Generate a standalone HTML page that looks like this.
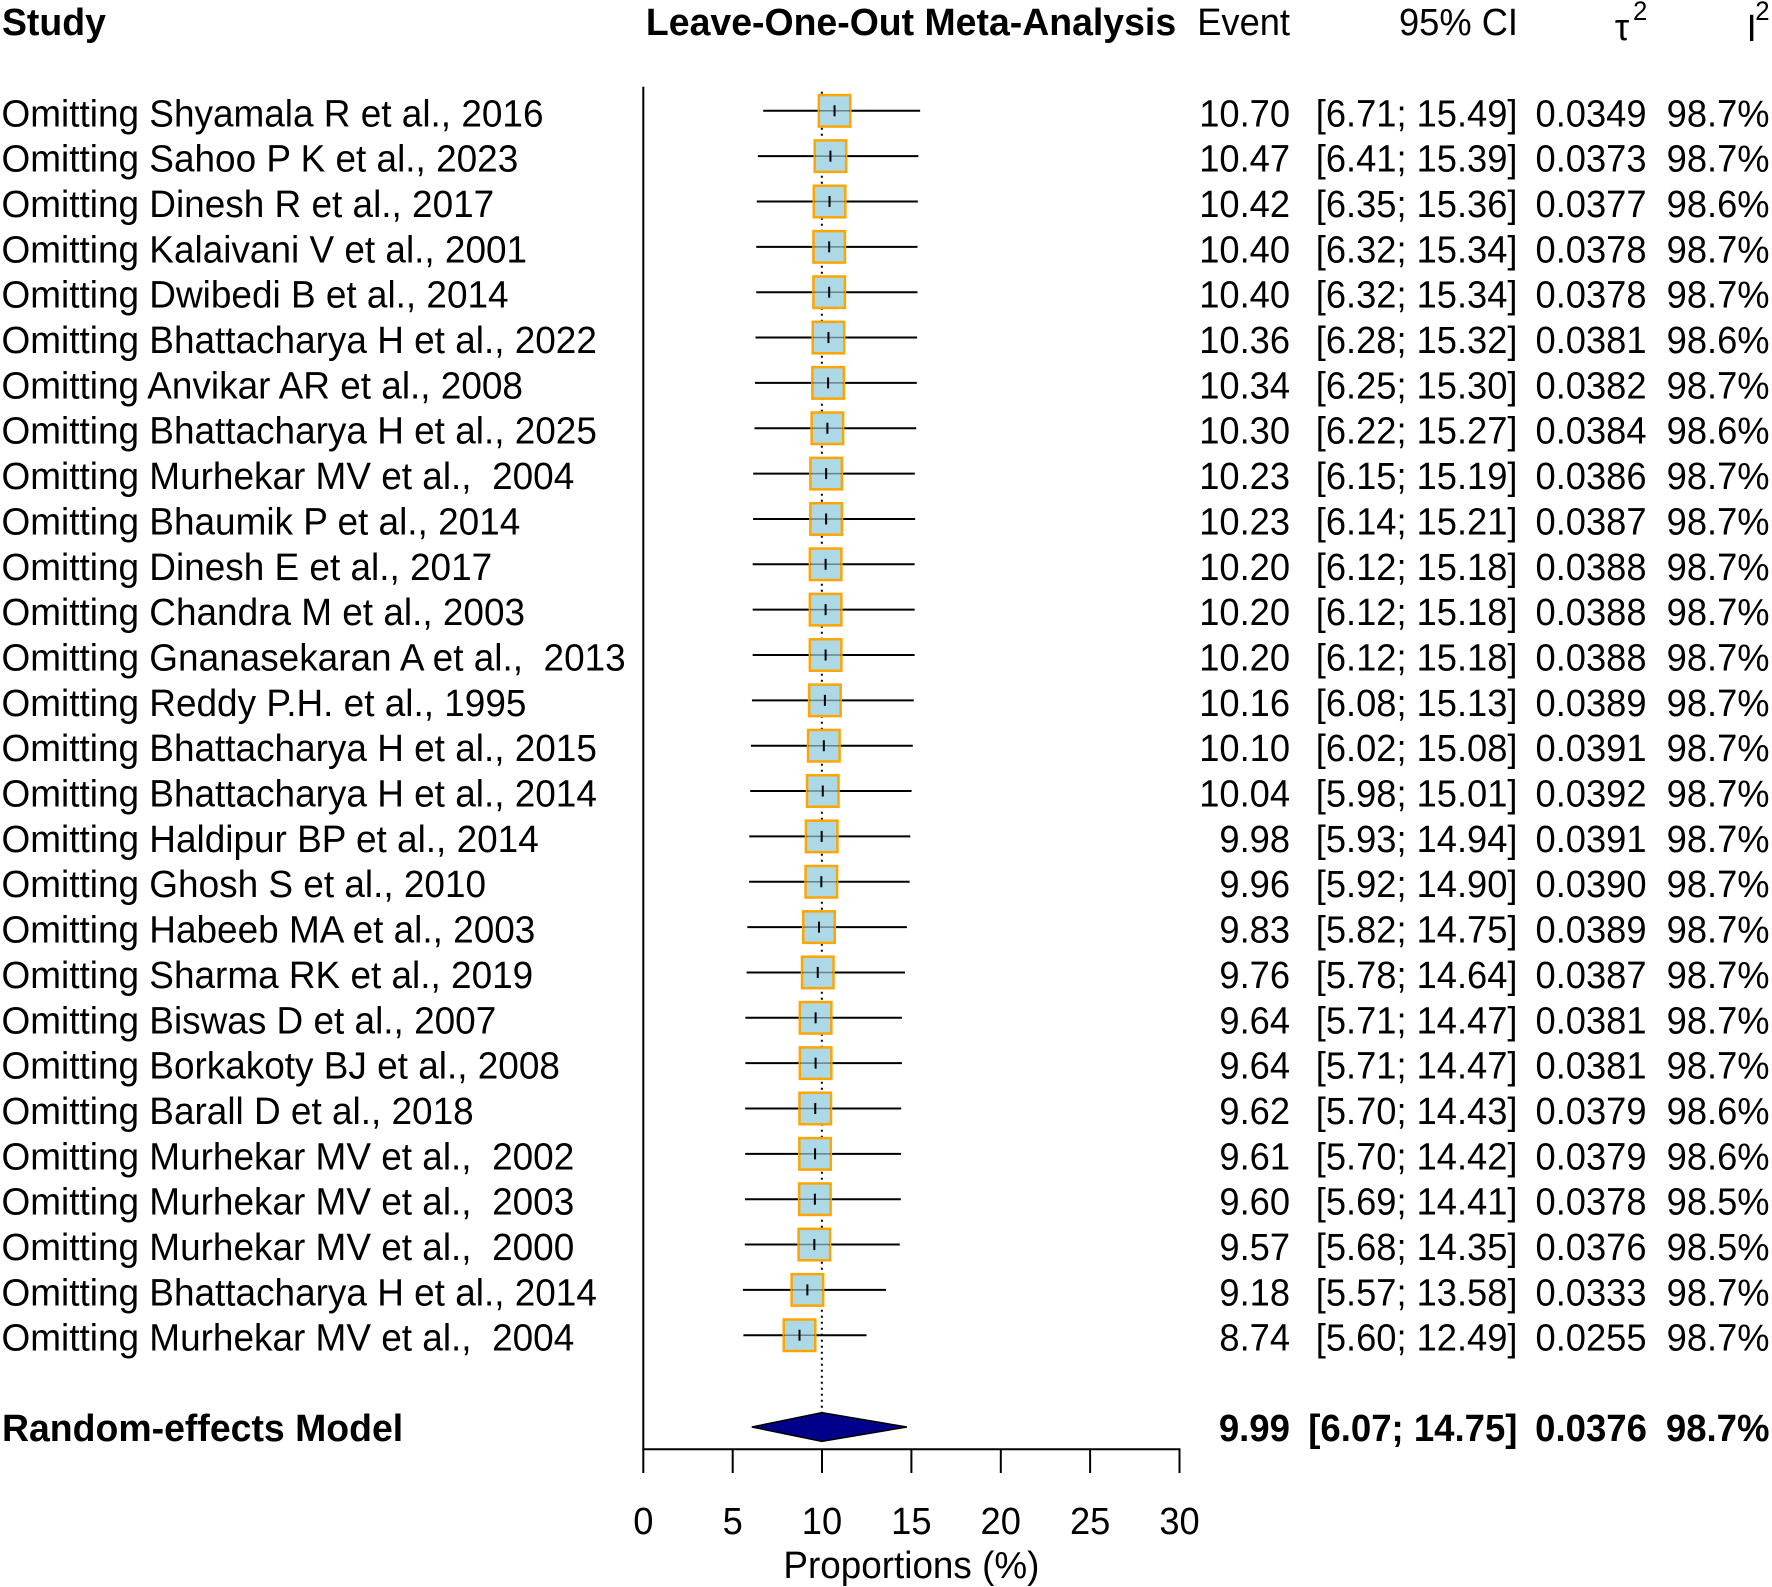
<!DOCTYPE html>
<html>
<head>
<meta charset="utf-8">
<style>
html,body{margin:0;padding:0;background:#fff;}
svg{display:block;}
text{font-family:"Liberation Sans",Arial,sans-serif;fill:#000;white-space:pre;}
.e{text-anchor:end;}
.m{text-anchor:middle;}
.b{font-weight:bold;}
</style>
</head>
<body>
<svg width="1772" height="1587" viewBox="0 0 1772 1587" xmlns="http://www.w3.org/2000/svg">
<rect x="0" y="0" width="1772" height="1587" fill="#fff"/>

<line x1="643.3" y1="86.7" x2="643.3" y2="1450" stroke="#000" stroke-width="2"/>
<line x1="642.3" y1="1449.3" x2="1180.5" y2="1449.3" stroke="#000" stroke-width="2"/>
<g stroke="#000" stroke-width="2">
<line x1="643.3" y1="1449" x2="643.3" y2="1473"/>
<line x1="732.7" y1="1449" x2="732.7" y2="1473"/>
<line x1="822.0" y1="1449" x2="822.0" y2="1473"/>
<line x1="911.4" y1="1449" x2="911.4" y2="1473"/>
<line x1="1000.8" y1="1449" x2="1000.8" y2="1473"/>
<line x1="1090.1" y1="1449" x2="1090.1" y2="1473"/>
<line x1="1179.5" y1="1449" x2="1179.5" y2="1473"/>
</g>

<line x1="821.85" y1="91.7" x2="821.85" y2="1413" stroke="#000" stroke-width="2" stroke-dasharray="2,4"/>

<g id="wh" stroke="#000" stroke-width="2">
<line x1="763.23" x2="920.15" y1="110.8" y2="110.8"/>
<line x1="757.87" x2="918.37" y1="156.15" y2="156.15"/>
<line x1="756.79" x2="917.83" y1="201.5" y2="201.5"/>
<line x1="756.26" x2="917.47" y1="246.85" y2="246.85"/>
<line x1="756.26" x2="917.47" y1="292.2" y2="292.2"/>
<line x1="755.54" x2="917.11" y1="337.55" y2="337.55"/>
<line x1="755.01" x2="916.76" y1="382.9" y2="382.9"/>
<line x1="754.47" x2="916.22" y1="428.25" y2="428.25"/>
<line x1="753.22" x2="914.79" y1="473.6" y2="473.6"/>
<line x1="753.04" x2="915.15" y1="518.95" y2="518.95"/>
<line x1="752.68" x2="914.61" y1="564.3" y2="564.3"/>
<line x1="752.68" x2="914.61" y1="609.65" y2="609.65"/>
<line x1="752.68" x2="914.61" y1="655.0" y2="655.0"/>
<line x1="751.97" x2="913.72" y1="700.35" y2="700.35"/>
<line x1="750.90" x2="912.82" y1="745.7" y2="745.7"/>
<line x1="750.18" x2="911.57" y1="791.05" y2="791.05"/>
<line x1="749.29" x2="910.32" y1="836.4" y2="836.4"/>
<line x1="749.11" x2="909.61" y1="881.75" y2="881.75"/>
<line x1="747.32" x2="906.93" y1="927.1" y2="927.1"/>
<line x1="746.61" x2="904.96" y1="972.45" y2="972.45"/>
<line x1="745.35" x2="901.92" y1="1017.8" y2="1017.8"/>
<line x1="745.35" x2="901.92" y1="1063.15" y2="1063.15"/>
<line x1="745.18" x2="901.21" y1="1108.5" y2="1108.5"/>
<line x1="745.18" x2="901.03" y1="1153.85" y2="1153.85"/>
<line x1="745.00" x2="900.85" y1="1199.2" y2="1199.2"/>
<line x1="744.82" x2="899.78" y1="1244.55" y2="1244.55"/>
<line x1="742.85" x2="886.02" y1="1289.9" y2="1289.9"/>
<line x1="743.39" x2="866.53" y1="1335.25" y2="1335.25"/>
</g>

<g fill="#ADD8E6" stroke="#FFA500" stroke-width="2.5">
<rect x="818.79" y="95.05" width="31.5" height="31.5"/>
<rect x="814.68" y="140.4" width="31.5" height="31.5"/>
<rect x="813.79" y="185.75" width="31.5" height="31.5"/>
<rect x="813.43" y="231.1" width="31.5" height="31.5"/>
<rect x="813.43" y="276.45" width="31.5" height="31.5"/>
<rect x="812.71" y="321.8" width="31.5" height="31.5"/>
<rect x="812.36" y="367.15" width="31.5" height="31.5"/>
<rect x="811.64" y="412.5" width="31.5" height="31.5"/>
<rect x="810.39" y="457.85" width="31.5" height="31.5"/>
<rect x="810.39" y="503.2" width="31.5" height="31.5"/>
<rect x="809.85" y="548.55" width="31.5" height="31.5"/>
<rect x="809.85" y="593.9" width="31.5" height="31.5"/>
<rect x="809.85" y="639.25" width="31.5" height="31.5"/>
<rect x="809.14" y="684.6" width="31.5" height="31.5"/>
<rect x="808.07" y="729.95" width="31.5" height="31.5"/>
<rect x="807.0" y="775.3" width="31.5" height="31.5"/>
<rect x="805.92" y="820.65" width="31.5" height="31.5"/>
<rect x="805.57" y="866.0" width="31.5" height="31.5"/>
<rect x="803.24" y="911.35" width="31.5" height="31.5"/>
<rect x="801.99" y="956.7" width="31.5" height="31.5"/>
<rect x="799.85" y="1002.05" width="31.5" height="31.5"/>
<rect x="799.85" y="1047.4" width="31.5" height="31.5"/>
<rect x="799.49" y="1092.75" width="31.5" height="31.5"/>
<rect x="799.31" y="1138.1" width="31.5" height="31.5"/>
<rect x="799.13" y="1183.45" width="31.5" height="31.5"/>
<rect x="798.59" y="1228.8" width="31.5" height="31.5"/>
<rect x="791.62" y="1274.15" width="31.5" height="31.5"/>
<rect x="783.76" y="1319.5" width="31.5" height="31.5"/>
</g>

<!-- faint whisker across boxes -->
<g stroke="#000" stroke-width="1.5" stroke-opacity="0.4">
<line x1="818.79" x2="850.29" y1="110.8" y2="110.8"/>
<line x1="814.68" x2="846.18" y1="156.15" y2="156.15"/>
<line x1="813.79" x2="845.29" y1="201.5" y2="201.5"/>
<line x1="813.43" x2="844.93" y1="246.85" y2="246.85"/>
<line x1="813.43" x2="844.93" y1="292.2" y2="292.2"/>
<line x1="812.71" x2="844.21" y1="337.55" y2="337.55"/>
<line x1="812.36" x2="843.86" y1="382.9" y2="382.9"/>
<line x1="811.64" x2="843.14" y1="428.25" y2="428.25"/>
<line x1="810.39" x2="841.89" y1="473.6" y2="473.6"/>
<line x1="810.39" x2="841.89" y1="518.95" y2="518.95"/>
<line x1="809.85" x2="841.35" y1="564.3" y2="564.3"/>
<line x1="809.85" x2="841.35" y1="609.65" y2="609.65"/>
<line x1="809.85" x2="841.35" y1="655.0" y2="655.0"/>
<line x1="809.14" x2="840.64" y1="700.35" y2="700.35"/>
<line x1="808.07" x2="839.57" y1="745.7" y2="745.7"/>
<line x1="807.0" x2="838.5" y1="791.05" y2="791.05"/>
<line x1="805.92" x2="837.42" y1="836.4" y2="836.4"/>
<line x1="805.57" x2="837.07" y1="881.75" y2="881.75"/>
<line x1="803.24" x2="834.74" y1="927.1" y2="927.1"/>
<line x1="801.99" x2="833.49" y1="972.45" y2="972.45"/>
<line x1="799.85" x2="831.35" y1="1017.8" y2="1017.8"/>
<line x1="799.85" x2="831.35" y1="1063.15" y2="1063.15"/>
<line x1="799.49" x2="830.99" y1="1108.5" y2="1108.5"/>
<line x1="799.31" x2="830.81" y1="1153.85" y2="1153.85"/>
<line x1="799.13" x2="830.63" y1="1199.2" y2="1199.2"/>
<line x1="798.59" x2="830.09" y1="1244.55" y2="1244.55"/>
<line x1="791.62" x2="823.12" y1="1289.9" y2="1289.9"/>
<line x1="783.76" x2="815.26" y1="1335.25" y2="1335.25"/>
</g>

<g stroke="#000" stroke-width="2">
<line x1="834.54" x2="834.54" y1="105.3" y2="116.3"/>
<line x1="830.43" x2="830.43" y1="150.65" y2="161.65"/>
<line x1="829.54" x2="829.54" y1="196.0" y2="207.0"/>
<line x1="829.18" x2="829.18" y1="241.35" y2="252.35"/>
<line x1="829.18" x2="829.18" y1="286.7" y2="297.7"/>
<line x1="828.46" x2="828.46" y1="332.05" y2="343.05"/>
<line x1="828.11" x2="828.11" y1="377.4" y2="388.4"/>
<line x1="827.39" x2="827.39" y1="422.75" y2="433.75"/>
<line x1="826.14" x2="826.14" y1="468.1" y2="479.1"/>
<line x1="826.14" x2="826.14" y1="513.45" y2="524.45"/>
<line x1="825.60" x2="825.60" y1="558.8" y2="569.8"/>
<line x1="825.60" x2="825.60" y1="604.15" y2="615.15"/>
<line x1="825.60" x2="825.60" y1="649.5" y2="660.5"/>
<line x1="824.89" x2="824.89" y1="694.85" y2="705.85"/>
<line x1="823.82" x2="823.82" y1="740.2" y2="751.2"/>
<line x1="822.75" x2="822.75" y1="785.55" y2="796.55"/>
<line x1="821.67" x2="821.67" y1="830.9" y2="841.9"/>
<line x1="821.32" x2="821.32" y1="876.25" y2="887.25"/>
<line x1="818.99" x2="818.99" y1="921.6" y2="932.6"/>
<line x1="817.74" x2="817.74" y1="966.95" y2="977.95"/>
<line x1="815.60" x2="815.60" y1="1012.3" y2="1023.3"/>
<line x1="815.60" x2="815.60" y1="1057.65" y2="1068.65"/>
<line x1="815.24" x2="815.24" y1="1103.0" y2="1114.0"/>
<line x1="815.06" x2="815.06" y1="1148.35" y2="1159.35"/>
<line x1="814.88" x2="814.88" y1="1193.7" y2="1204.7"/>
<line x1="814.34" x2="814.34" y1="1239.05" y2="1250.05"/>
<line x1="807.37" x2="807.37" y1="1284.4" y2="1295.4"/>
<line x1="799.51" x2="799.51" y1="1329.75" y2="1340.75"/>
</g>

<polygon points="751.79,1427 821.85,1412.7 906.93,1427 821.85,1441.3" fill="#00008B" stroke="#000" stroke-width="1.5"/>

<!-- bold headers/labels -->
<g transform="scale(0.985,1)" font-size="38">
<text class="b" x="2" y="35">Study</text>
<text class="b m" x="924.9" y="35">Leave-One-Out Meta-Analysis</text>
<text class="b" x="2" y="1441">Random-effects Model</text>
</g>
<!-- bold numbers -->
<g transform="scale(0.962,1)" font-size="38">
<text class="b e" x="1340.9" y="1441">9.99</text>
<text class="b e" x="1577.4" y="1441">[6.07; 14.75]</text>
<text class="b e" x="1712.0" y="1441">0.0376</text>
<text class="b e" x="1839.4" y="1441">98.7%</text>
</g>

<!-- study labels -->
<g transform="scale(0.972,1)" font-size="38">
<text x="1.6" y="126.3">Omitting Shyamala R et al., 2016</text>
<text x="1.6" y="171.65">Omitting Sahoo P K et al., 2023</text>
<text x="1.6" y="217.0">Omitting Dinesh R et al., 2017</text>
<text x="1.6" y="262.35">Omitting Kalaivani V et al., 2001</text>
<text x="1.6" y="307.7">Omitting Dwibedi B et al., 2014</text>
<text x="1.6" y="353.05">Omitting Bhattacharya H et al., 2022</text>
<text x="1.6" y="398.4">Omitting Anvikar AR et al., 2008</text>
<text x="1.6" y="443.75">Omitting Bhattacharya H et al., 2025</text>
<text x="1.6" y="489.1">Omitting Murhekar MV et al.,  2004</text>
<text x="1.6" y="534.45">Omitting Bhaumik P et al., 2014</text>
<text x="1.6" y="579.8">Omitting Dinesh E et al., 2017</text>
<text x="1.6" y="625.15">Omitting Chandra M et al., 2003</text>
<text x="1.6" y="670.5">Omitting Gnanasekaran A et al.,  2013</text>
<text x="1.6" y="715.85">Omitting Reddy P.H. et al., 1995</text>
<text x="1.6" y="761.2">Omitting Bhattacharya H et al., 2015</text>
<text x="1.6" y="806.55">Omitting Bhattacharya H et al., 2014</text>
<text x="1.6" y="851.9">Omitting Haldipur BP et al., 2014</text>
<text x="1.6" y="897.25">Omitting Ghosh S et al., 2010</text>
<text x="1.6" y="942.6">Omitting Habeeb MA et al., 2003</text>
<text x="1.6" y="987.95">Omitting Sharma RK et al., 2019</text>
<text x="1.6" y="1033.3">Omitting Biswas D et al., 2007</text>
<text x="1.6" y="1078.65">Omitting Borkakoty BJ et al., 2008</text>
<text x="1.6" y="1124.0">Omitting Barall D et al., 2018</text>
<text x="1.6" y="1169.35">Omitting Murhekar MV et al.,  2002</text>
<text x="1.6" y="1214.7">Omitting Murhekar MV et al.,  2003</text>
<text x="1.6" y="1260.05">Omitting Murhekar MV et al.,  2000</text>
<text x="1.6" y="1305.4">Omitting Bhattacharya H et al., 2014</text>
<text x="1.6" y="1350.75">Omitting Murhekar MV et al.,  2004</text>
</g>

<g transform="scale(0.955,1)" font-size="38">
<text class="e" x="1350.8" y="35">Event</text>
<text class="e" x="1589.5" y="35">95% CI</text>
<text x="1691" y="40">τ</text>
<text x="1710" y="20" font-size="27">2</text>
<text x="1829" y="41">I</text>
<text x="1838" y="20" font-size="27">2</text>

<text class="e" x="1350.8" y="126.3">10.70</text>
<text class="e" x="1350.8" y="171.65">10.47</text>
<text class="e" x="1350.8" y="217.0">10.42</text>
<text class="e" x="1350.8" y="262.35">10.40</text>
<text class="e" x="1350.8" y="307.7">10.40</text>
<text class="e" x="1350.8" y="353.05">10.36</text>
<text class="e" x="1350.8" y="398.4">10.34</text>
<text class="e" x="1350.8" y="443.75">10.30</text>
<text class="e" x="1350.8" y="489.1">10.23</text>
<text class="e" x="1350.8" y="534.45">10.23</text>
<text class="e" x="1350.8" y="579.8">10.20</text>
<text class="e" x="1350.8" y="625.15">10.20</text>
<text class="e" x="1350.8" y="670.5">10.20</text>
<text class="e" x="1350.8" y="715.85">10.16</text>
<text class="e" x="1350.8" y="761.2">10.10</text>
<text class="e" x="1350.8" y="806.55">10.04</text>
<text class="e" x="1350.8" y="851.9">9.98</text>
<text class="e" x="1350.8" y="897.25">9.96</text>
<text class="e" x="1350.8" y="942.6">9.83</text>
<text class="e" x="1350.8" y="987.95">9.76</text>
<text class="e" x="1350.8" y="1033.3">9.64</text>
<text class="e" x="1350.8" y="1078.65">9.64</text>
<text class="e" x="1350.8" y="1124.0">9.62</text>
<text class="e" x="1350.8" y="1169.35">9.61</text>
<text class="e" x="1350.8" y="1214.7">9.60</text>
<text class="e" x="1350.8" y="1260.05">9.57</text>
<text class="e" x="1350.8" y="1305.4">9.18</text>
<text class="e" x="1350.8" y="1350.75">8.74</text>

<text class="e" x="1589" y="126.3">[6.71; 15.49]</text>
<text class="e" x="1589" y="171.65">[6.41; 15.39]</text>
<text class="e" x="1589" y="217.0">[6.35; 15.36]</text>
<text class="e" x="1589" y="262.35">[6.32; 15.34]</text>
<text class="e" x="1589" y="307.7">[6.32; 15.34]</text>
<text class="e" x="1589" y="353.05">[6.28; 15.32]</text>
<text class="e" x="1589" y="398.4">[6.25; 15.30]</text>
<text class="e" x="1589" y="443.75">[6.22; 15.27]</text>
<text class="e" x="1589" y="489.1">[6.15; 15.19]</text>
<text class="e" x="1589" y="534.45">[6.14; 15.21]</text>
<text class="e" x="1589" y="579.8">[6.12; 15.18]</text>
<text class="e" x="1589" y="625.15">[6.12; 15.18]</text>
<text class="e" x="1589" y="670.5">[6.12; 15.18]</text>
<text class="e" x="1589" y="715.85">[6.08; 15.13]</text>
<text class="e" x="1589" y="761.2">[6.02; 15.08]</text>
<text class="e" x="1589" y="806.55">[5.98; 15.01]</text>
<text class="e" x="1589" y="851.9">[5.93; 14.94]</text>
<text class="e" x="1589" y="897.25">[5.92; 14.90]</text>
<text class="e" x="1589" y="942.6">[5.82; 14.75]</text>
<text class="e" x="1589" y="987.95">[5.78; 14.64]</text>
<text class="e" x="1589" y="1033.3">[5.71; 14.47]</text>
<text class="e" x="1589" y="1078.65">[5.71; 14.47]</text>
<text class="e" x="1589" y="1124.0">[5.70; 14.43]</text>
<text class="e" x="1589" y="1169.35">[5.70; 14.42]</text>
<text class="e" x="1589" y="1214.7">[5.69; 14.41]</text>
<text class="e" x="1589" y="1260.05">[5.68; 14.35]</text>
<text class="e" x="1589" y="1305.4">[5.57; 13.58]</text>
<text class="e" x="1589" y="1350.75">[5.60; 12.49]</text>

<text class="e" x="1724.1" y="126.3">0.0349</text>
<text class="e" x="1724.1" y="171.65">0.0373</text>
<text class="e" x="1724.1" y="217.0">0.0377</text>
<text class="e" x="1724.1" y="262.35">0.0378</text>
<text class="e" x="1724.1" y="307.7">0.0378</text>
<text class="e" x="1724.1" y="353.05">0.0381</text>
<text class="e" x="1724.1" y="398.4">0.0382</text>
<text class="e" x="1724.1" y="443.75">0.0384</text>
<text class="e" x="1724.1" y="489.1">0.0386</text>
<text class="e" x="1724.1" y="534.45">0.0387</text>
<text class="e" x="1724.1" y="579.8">0.0388</text>
<text class="e" x="1724.1" y="625.15">0.0388</text>
<text class="e" x="1724.1" y="670.5">0.0388</text>
<text class="e" x="1724.1" y="715.85">0.0389</text>
<text class="e" x="1724.1" y="761.2">0.0391</text>
<text class="e" x="1724.1" y="806.55">0.0392</text>
<text class="e" x="1724.1" y="851.9">0.0391</text>
<text class="e" x="1724.1" y="897.25">0.0390</text>
<text class="e" x="1724.1" y="942.6">0.0389</text>
<text class="e" x="1724.1" y="987.95">0.0387</text>
<text class="e" x="1724.1" y="1033.3">0.0381</text>
<text class="e" x="1724.1" y="1078.65">0.0381</text>
<text class="e" x="1724.1" y="1124.0">0.0379</text>
<text class="e" x="1724.1" y="1169.35">0.0379</text>
<text class="e" x="1724.1" y="1214.7">0.0378</text>
<text class="e" x="1724.1" y="1260.05">0.0376</text>
<text class="e" x="1724.1" y="1305.4">0.0333</text>
<text class="e" x="1724.1" y="1350.75">0.0255</text>

<text class="e" x="1852.9" y="126.3">98.7%</text>
<text class="e" x="1852.9" y="171.65">98.7%</text>
<text class="e" x="1852.9" y="217.0">98.6%</text>
<text class="e" x="1852.9" y="262.35">98.7%</text>
<text class="e" x="1852.9" y="307.7">98.7%</text>
<text class="e" x="1852.9" y="353.05">98.6%</text>
<text class="e" x="1852.9" y="398.4">98.7%</text>
<text class="e" x="1852.9" y="443.75">98.6%</text>
<text class="e" x="1852.9" y="489.1">98.7%</text>
<text class="e" x="1852.9" y="534.45">98.7%</text>
<text class="e" x="1852.9" y="579.8">98.7%</text>
<text class="e" x="1852.9" y="625.15">98.7%</text>
<text class="e" x="1852.9" y="670.5">98.7%</text>
<text class="e" x="1852.9" y="715.85">98.7%</text>
<text class="e" x="1852.9" y="761.2">98.7%</text>
<text class="e" x="1852.9" y="806.55">98.7%</text>
<text class="e" x="1852.9" y="851.9">98.7%</text>
<text class="e" x="1852.9" y="897.25">98.7%</text>
<text class="e" x="1852.9" y="942.6">98.7%</text>
<text class="e" x="1852.9" y="987.95">98.7%</text>
<text class="e" x="1852.9" y="1033.3">98.7%</text>
<text class="e" x="1852.9" y="1078.65">98.7%</text>
<text class="e" x="1852.9" y="1124.0">98.6%</text>
<text class="e" x="1852.9" y="1169.35">98.6%</text>
<text class="e" x="1852.9" y="1214.7">98.5%</text>
<text class="e" x="1852.9" y="1260.05">98.5%</text>
<text class="e" x="1852.9" y="1305.4">98.7%</text>
<text class="e" x="1852.9" y="1350.75">98.7%</text>

<text class="m" x="673.6" y="1534">0</text>
<text class="m" x="767.2" y="1534">5</text>
<text class="m" x="860.7" y="1534">10</text>
<text class="m" x="954.3" y="1534">15</text>
<text class="m" x="1047.9" y="1534">20</text>
<text class="m" x="1141.5" y="1534">25</text>
<text class="m" x="1235.1" y="1534">30</text>
</g>
<g transform="scale(0.97,1)" font-size="38">
<text class="m" x="939.6" y="1578">Proportions (%)</text>
</g>
</svg>
</body>
</html>
